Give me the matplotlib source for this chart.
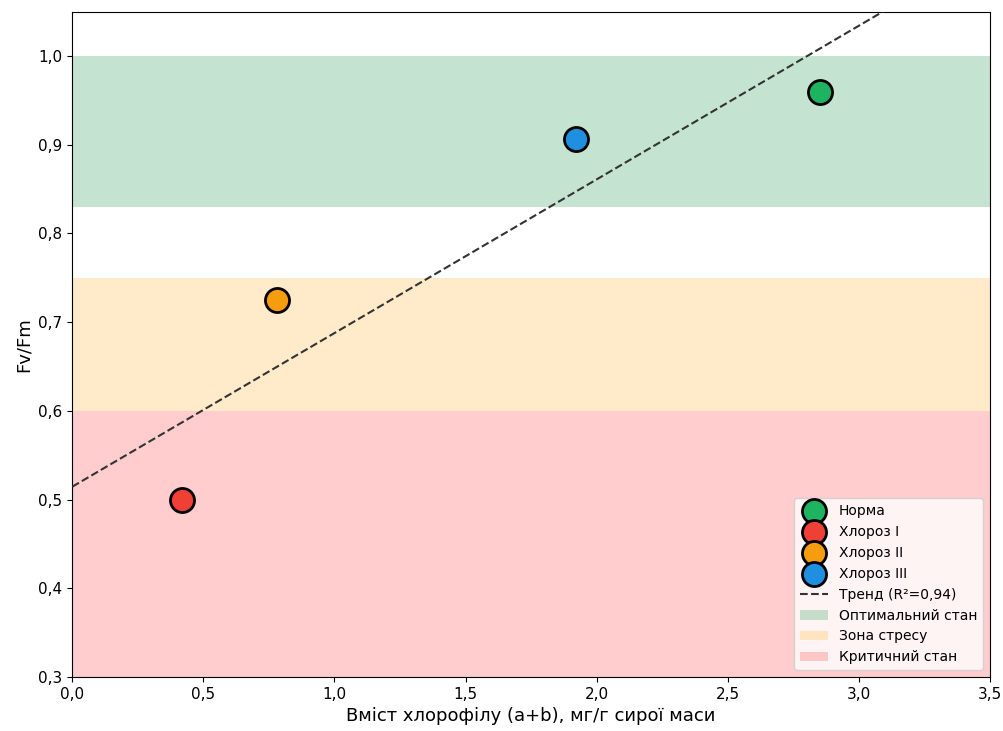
import numpy as np
import matplotlib
matplotlib.use('Agg')
import matplotlib.pyplot as plt
from matplotlib.ticker import FuncFormatter

# вміст хлорофілу та Fv/Fm для груп
groups = ['Норма', 'Хлороз I', 'Хлороз II', 'Хлороз III']
chl = [2.85, 0.42, 0.78, 1.92]
fvfm = [0.96, 0.50, 0.725, 0.907]
colors = ['#1db361', '#ee4035', '#f59d0e', '#1f8fe0']
r2_label = 'Тренд (R²=0,94)'

# зони стану
zones = [('Оптимальний стан', 0.83, 1.0, '#2ca05a', 0.28),
         ('Зона стресу', 0.60, 0.75, '#ffc04d', 0.3),
         ('Критичний стан', 0.30, 0.60, '#ff5c5c', 0.3)]

fig, ax = plt.subplots(figsize=(10.04, 7.31), dpi=100)

for g, x, y, c in zip(groups, chl, fvfm, colors):
    ax.scatter(x, y, s=300, color=c, edgecolor='black', linewidth=2, zorder=5, label=g)

k, b = np.polyfit(chl, fvfm, 1)
xs = np.linspace(0, 3.5, 100)
ax.plot(xs, k * xs + b, '--', color='#333333', linewidth=1.5, label=r2_label, zorder=3)

for name, lo, hi, c, a in zones:
    ax.axhspan(lo, hi, color=c, alpha=a, linewidth=0, label=name, zorder=1)

ax.set_xlim(0, 3.5)
ax.set_ylim(0.3, 1.05)
ax.set_xticks(np.arange(0, 3.51, 0.5))
ax.set_yticks(np.arange(0.3, 1.01, 0.1))
comma = FuncFormatter(lambda v, p: f'{v:.1f}'.replace('.', ','))
ax.xaxis.set_major_formatter(comma)
ax.yaxis.set_major_formatter(comma)
ax.tick_params(labelsize=11)

ax.set_xlabel('Вміст хлорофілу (a+b), мг/г сирої маси', fontsize=13)
ax.set_ylabel('Fv/Fm', fontsize=13)
ax.legend(loc='lower right', fontsize=10)

plt.subplots_adjust(left=0.072, right=0.986, bottom=0.074, top=0.984)
plt.savefig('out.png')
